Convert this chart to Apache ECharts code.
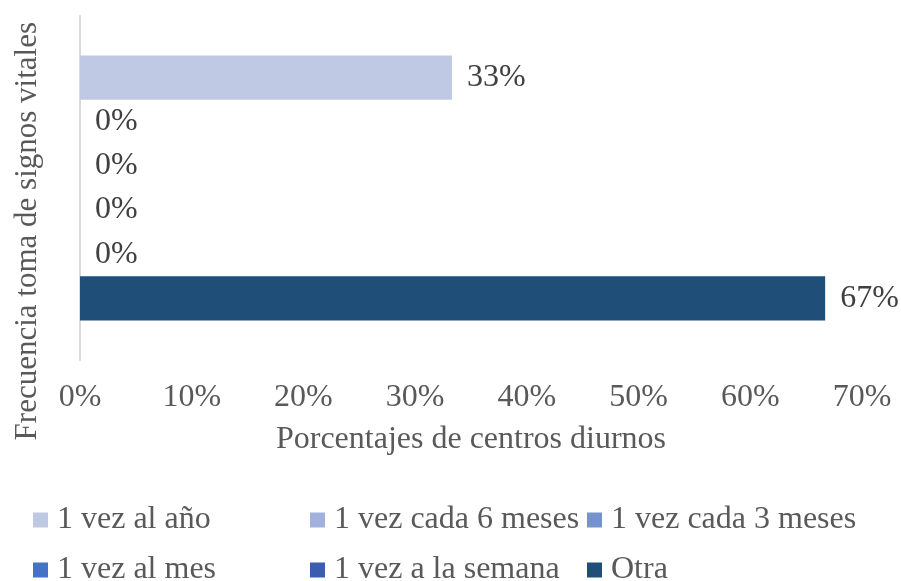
<!DOCTYPE html>
<html><head><meta charset="utf-8">
<script src="https://cdn.jsdelivr.net/npm/echarts@6/dist/echarts.min.js"></script>
<style>html,body{margin:0;padding:0;background:#fff}#c{width:901px;height:581px}</style>
</head><body><div id="c"></div>
<script>
const categories = ['Frecuencia'];
const seriesNames = ['1 vez al año','1 vez cada 6 meses','1 vez cada 3 meses','1 vez al mes','1 vez a la semana','Otra'];
const seriesValues = [33.3, 0, 0, 0, 0, 66.7];
const seriesColors = ['#BFC9E3','#A2B1DB','#7691D0','#4472C4','#3A5DAE','#1F4E79'];
const xTicks = [0,10,20,30,40,50,60,70];
const yTitle = 'Frecuencia toma de signos vitales';
const xTitle = 'Porcentajes de centros diurnos';

const FONT = '"Liberation Serif","Times New Roman",serif';
const FS = 32;
const chart = echarts.init(document.getElementById('c'));
chart.setOption({
  animation:false,
  textStyle:{fontFamily:FONT},
  grid:{left:80,right:39,top:16,bottom:221},
  xAxis:{type:'value',min:xTicks[0],max:xTicks[xTicks.length-1],interval:10,
    axisLine:{show:false},axisTick:{show:false},splitLine:{show:false},
    axisLabel:{formatter:'{value}%',fontSize:FS,color:'#595959',margin:22,fontFamily:FONT},
    name:xTitle,nameLocation:'middle',nameGap:64,
    nameTextStyle:{fontSize:FS,color:'#595959',fontFamily:FONT}},
  yAxis:{type:'category',data:categories,
    axisLine:{show:true,lineStyle:{color:'#D9D9D9',width:2}},axisTick:{show:false},axisLabel:{show:false}},
  legend:{left:28,top:490,width:870,itemWidth:15,itemHeight:15,itemGap:0,
    icon:'rect',data:seriesNames,
    textStyle:{fontSize:FS,color:'#595959',width:253,lineHeight:50,fontFamily:FONT,padding:[0,0,0,4]}},
  graphic:[{type:'text',left:12,top:22,rotation:Math.PI/2,
    style:{text:yTitle,fontSize:31,fill:'#595959',fontFamily:FONT}}],
  series:seriesNames.map((n,i)=>({
    name:n,type:'bar',data:[seriesValues[i]],barGap:'0%',barCategoryGap:'23%',
    itemStyle:{color:seriesColors[i]},
    label:{show:true,position:'right',distance:15,fontSize:FS,color:'#404040',fontFamily:FONT,
      formatter:p=>Math.round(p.value)+'%'}
  }))
});
</script></body></html>
